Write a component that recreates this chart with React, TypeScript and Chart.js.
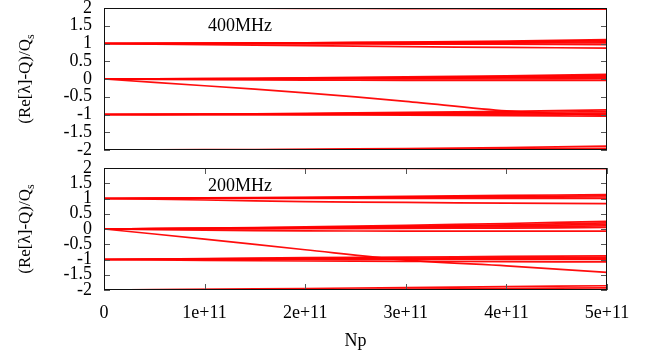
import React, { useEffect, useRef } from "react";
import { Chart, registerables } from "chart.js";

Chart.register(...registerables);

// Np sample positions
const npValues = [0, 1e11, 2e11, 3e11, 4e11, 5e11];
const xTickValues = [0, 1e11, 2e11, 3e11, 4e11, 5e11];
const xTickLabels = ["0", "1e+11", "2e+11", "3e+11", "4e+11", "5e+11"];
const yTickValues = [-2, -1.5, -1, -0.5, 0, 0.5, 1, 1.5, 2];
const yTickLabels = ["-2", "-1.5", "-1", "-0.5", "0", "0.5", "1", "1.5", "2"];
const panelLabels = ["400MHz", "200MHz"];

// 400 MHz panel: (Re[λ]-Q)/Qs per mode, values at npValues
const modes400Level2 = [
  [2, 2, 2, 2, 2, 2],
  [2, 1.995, 1.99, 1.985, 1.975, 1.965],
];
const modes400Level1 = [
  [1, 1.01, 1.02, 1.04, 1.07, 1.11],
  [1, 1.01, 1.02, 1.03, 1.05, 1.08],
  [1, 1.0, 1.01, 1.02, 1.03, 1.05],
  [1, 1, 1, 1.005, 1.01, 1.02],
  [1, 0.995, 0.99, 0.985, 0.98, 0.97],
  [1, 0.97, 0.94, 0.91, 0.89, 0.87],
];
const modes400Level0 = [
  [0, 0.01, 0.03, 0.06, 0.09, 0.13],
  [0, 0.01, 0.02, 0.04, 0.07, 0.1],
  [0, 0.005, 0.015, 0.03, 0.05, 0.07],
  [0, 0, 0.01, 0.02, 0.03, 0.04],
  [0, 0, 0, 0, 0, 0.01],
  [0, -0.02, -0.03, -0.04, -0.04, -0.04],
];
const modes400Falling = [[0, -0.19, -0.39, -0.63, -0.9, -1.03]];
const modes400LevelM1 = [
  [-1, -0.99, -0.97, -0.94, -0.91, -0.87],
  [-1, -0.99, -0.98, -0.96, -0.94, -0.92],
  [-1, -1, -0.99, -0.98, -0.97, -0.96],
  [-1, -1, -1, -1, -1, -1],
  [-1, -1.005, -1.01, -1.02, -1.03, -1.05],
];
const modes400LevelM2 = [
  [-2, -2, -2, -2, -2, -2],
  [-2, -1.99, -1.98, -1.96, -1.93, -1.89],
  [-2, -2, -1.99, -1.98, -1.97, -1.95],
];

// 200 MHz panel
const modes200Level2 = [
  [2, 2, 2, 2, 2, 2],
  [2, 1.995, 1.99, 1.985, 1.98, 1.975],
];
const modes200Level1 = [
  [1, 1.02, 1.04, 1.07, 1.1, 1.13],
  [1, 1.01, 1.03, 1.05, 1.07, 1.09],
  [1, 1.01, 1.02, 1.03, 1.04, 1.05],
  [1, 1, 1, 1, 1, 1],
  [1, 0.95, 0.9, 0.87, 0.85, 0.83],
];
const modes200Level0 = [
  [0, 0.03, 0.07, 0.12, 0.18, 0.25],
  [0, 0.02, 0.05, 0.09, 0.14, 0.2],
  [0, 0.02, 0.04, 0.07, 0.11, 0.15],
  [0, 0.01, 0.03, 0.05, 0.07, 0.1],
  [0, 0.005, 0.01, 0.02, 0.03, 0.05],
  [0, -0.04, -0.06, -0.07, -0.07, -0.07],
];
const modes200Falling = [[0, -0.33, -0.68, -1.02, -1.21, -1.42]];
const modes200LevelM1 = [
  [-1, -0.97, -0.94, -0.92, -0.9, -0.88],
  [-1, -0.98, -0.96, -0.95, -0.94, -0.93],
  [-1, -0.99, -0.98, -0.98, -0.97, -0.97],
  [-1, -1, -1, -1, -1, -1],
  [-1, -1.03, -1.05, -1.06, -1.07, -1.08],
];
const modes200LevelM2 = [
  [-2, -2, -2, -2, -2, -2],
  [-2, -1.98, -1.95, -1.92, -1.89, -1.86],
  [-2, -1.99, -1.98, -1.97, -1.95, -1.93],
];

const modes400 = [
  ...modes400Level2,
  ...modes400Level1,
  ...modes400Level0,
  ...modes400Falling,
  ...modes400LevelM1,
  ...modes400LevelM2,
];
const modes200 = [
  ...modes200Level2,
  ...modes200Level1,
  ...modes200Level0,
  ...modes200Falling,
  ...modes200LevelM1,
  ...modes200LevelM2,
];

const FONT = "'Liberation Serif', 'Times New Roman', serif";
const FONT_SIZE = 18;

function makeConfig(modes: number[][], label: string, showX: boolean, canvasH: number, areaTop: number, areaBottom: number): any {
  const decorPlugin = {
    id: "decor" + label,
    afterDatasetsDraw(chart: any) {
      const ctx = chart.ctx;
      const { left, right, top, bottom } = chart.chartArea;
      const ys = chart.scales.y;
      const xs = chart.scales.x;
      ctx.save();
      // inward ticks
      ctx.strokeStyle = "#555";
      ctx.lineWidth = 1;
      ctx.beginPath();
      for (const v of yTickValues) {
        const py = Math.round(ys.getPixelForValue(v)) + 0.5;
        ctx.moveTo(left, py);
        ctx.lineTo(left + 6, py);
        ctx.moveTo(right - 6, py);
        ctx.lineTo(right, py);
      }
      if (showX) {
        for (const v of xTickValues) {
          const px = Math.round(xs.getPixelForValue(v)) + 0.5;
          ctx.moveTo(px, bottom);
          ctx.lineTo(px, bottom - 6);
          ctx.moveTo(px, top);
          ctx.lineTo(px, top + 6);
        }
      }
      ctx.stroke();
      // frame
      ctx.strokeStyle = "#111";
      ctx.lineWidth = 1;
      ctx.strokeRect(Math.round(left) + 0.5, Math.round(top) + 0.5, Math.round(right - left) - 1, Math.round(bottom - top) - 1);
      // panel label
      ctx.fillStyle = "#000";
      ctx.font = `${FONT_SIZE}px ${FONT}`;
      ctx.textAlign = "center";
      ctx.textBaseline = "middle";
      ctx.fillText(label, 240, top + 18);
      // y title
      const main = "(Re[λ]-Q)/Q";
      const sub = "s";
      ctx.font = `17px ${FONT}`;
      const wMain = ctx.measureText(main).width;
      ctx.font = `12px ${FONT}`;
      const wSub = ctx.measureText(sub).width;
      const total = wMain + wSub;
      ctx.translate(30, (top + bottom) / 2);
      ctx.rotate(-Math.PI / 2);
      ctx.textAlign = "left";
      ctx.textBaseline = "alphabetic";
      ctx.font = `17px ${FONT}`;
      ctx.fillText(main, -total / 2, 0);
      ctx.font = `12px ${FONT}`;
      ctx.fillText(sub, -total / 2 + wMain, 4);
      ctx.restore();
      if (showX) {
        ctx.save();
        ctx.fillStyle = "#000";
        ctx.font = `${FONT_SIZE}px ${FONT}`;
        ctx.textAlign = "center";
        ctx.textBaseline = "middle";
        ctx.fillText("Np", (left + right) / 2, bottom + 51);
        ctx.restore();
      }
    },
  };

  return {
    type: "line",
    data: {
      datasets: modes.map((vals, i) => ({
        label: `mode ${i}`,
        data: npValues.map((x, j) => ({ x, y: vals[j] })),
        borderColor: "rgba(255,0,0,0.95)",
        borderWidth: 1.7,
        pointRadius: 0,
        fill: false,
        tension: 0.3,
      })),
    },
    options: {
      animation: false,
      responsive: false,
      devicePixelRatio: 1,
      layout: { padding: { left: 0, right: 39, top: areaTop, bottom: 0 } },
      plugins: { legend: { display: false }, tooltip: { enabled: false }, title: { display: false } },
      scales: {
        x: {
          type: "linear",
          min: 0,
          max: 5e11,
          grid: { display: false, drawTicks: false },
          border: { display: false },
          afterBuildTicks: (s: any) => {
            s.ticks = xTickValues.map((v) => ({ value: v }));
          },
          afterFit: (s: any) => {
            s.height = canvasH - areaBottom;
            s.paddingLeft = 0;
            s.paddingRight = 0;
          },
          ticks: {
            display: showX,
            color: "#000",
            font: { family: FONT, size: FONT_SIZE },
            padding: 12,
            maxRotation: 0,
            autoSkip: false,
            callback: (v: any) => {
              const idx = xTickValues.indexOf(Number(v));
              return idx >= 0 ? xTickLabels[idx] : "";
            },
          },
        },
        y: {
          type: "linear",
          min: -2,
          max: 2,
          grid: { display: false, drawTicks: false },
          border: { display: false },
          afterBuildTicks: (s: any) => {
            s.ticks = yTickValues.map((v) => ({ value: v }));
          },
          afterFit: (s: any) => {
            s.width = 104;
            s.paddingTop = 0;
            s.paddingBottom = 0;
          },
          ticks: {
            color: "#000",
            font: { family: FONT, size: FONT_SIZE },
            padding: 12,
            autoSkip: false,
            callback: (v: any) => {
              const idx = yTickValues.indexOf(Number(v));
              return idx >= 0 ? yTickLabels[idx] : "";
            },
          },
        },
      },
    },
    plugins: [decorPlugin],
  };
}

function Panel(props: { modes: number[][]; label: string; showX: boolean; top: number; height: number; areaTop: number; areaBottom: number }) {
  const ref = useRef<HTMLCanvasElement | null>(null);
  useEffect(() => {
    if (!ref.current) return;
    const chart = new Chart(ref.current, makeConfig(props.modes, props.label, props.showX, props.height, props.areaTop, props.areaBottom));
    return () => chart.destroy();
  }, []);
  return (
    <canvas
      ref={ref}
      width={646}
      height={props.height}
      style={{ position: "absolute", left: 0, top: props.top, width: 646, height: props.height }}
    />
  );
}

export default function App() {
  return (
    <div style={{ position: "absolute", left: 0, top: 0, width: 646, height: 358, background: "#fff" }}>
      <Panel modes={modes400} label={panelLabels[0]} showX={false} top={0} height={162} areaTop={8} areaBottom={150} />
      <Panel modes={modes200} label={panelLabels[1]} showX={true} top={160} height={198} areaTop={8} areaBottom={130} />
    </div>
  );
}
